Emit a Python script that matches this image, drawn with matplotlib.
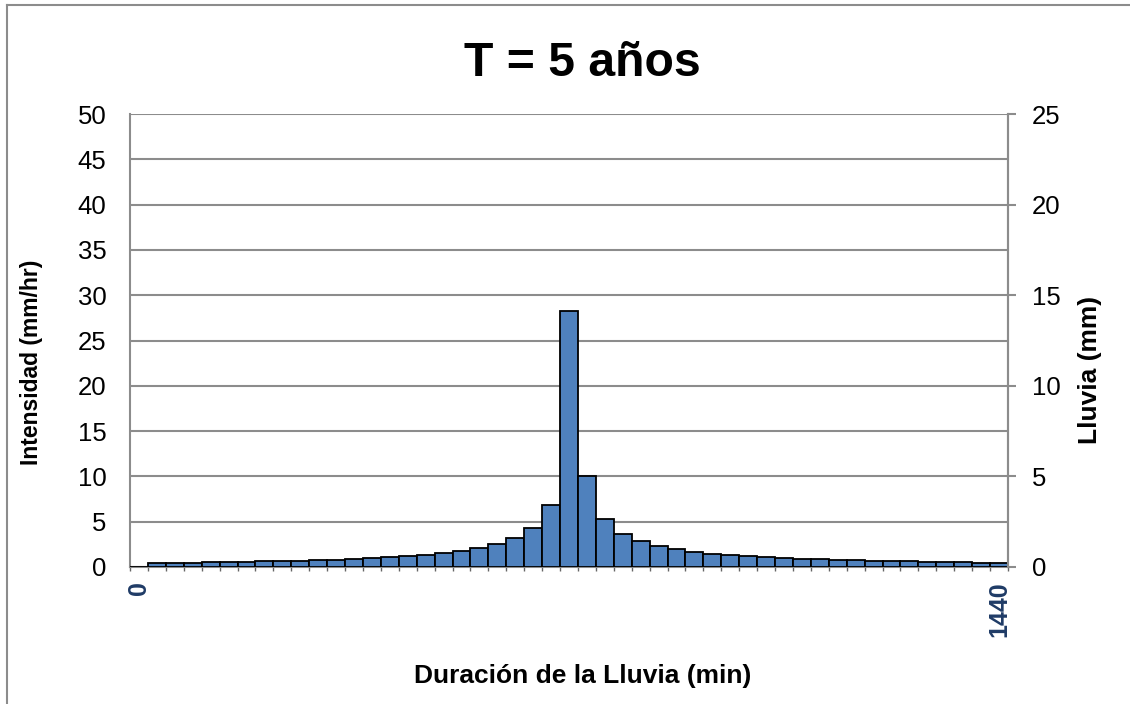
import matplotlib
matplotlib.use('Agg')
import matplotlib.pyplot as plt
from matplotlib.lines import Line2D
import numpy as np

plt.rcParams['font.family'] = ['Liberation Sans', 'DejaVu Sans']

# Data: rain duration categories (min) and intensity (mm/hr)
minutos = list(range(0, 1441, 30))
intensidad = [0.0, 0.44, 0.46, 0.47, 0.50, 0.53, 0.57, 0.61, 0.65, 0.70,
              0.75, 0.81, 0.88, 0.96, 1.06, 1.20, 1.34, 1.55, 1.80, 2.13,
              2.53, 3.23, 4.33, 6.83, 28.3, 9.99, 5.27, 3.66, 2.90, 2.32,
              1.95, 1.69, 1.47, 1.32, 1.18, 1.07, 0.96, 0.89, 0.84, 0.79,
              0.74, 0.70, 0.66, 0.62, 0.57, 0.55, 0.51, 0.48, 0.46]
etiquetas_x = ['0', '1440']
ticks_izq = [0, 5, 10, 15, 20, 25, 30, 35, 40, 45, 50]
ticks_der = [0, 5, 10, 15, 20, 25]

GRIS = '#8c8c8c'

fig = plt.figure(figsize=(11.3, 7.04), dpi=100)
ax = fig.add_axes([130 / 1130, 1 - 567 / 704, (1008 - 130) / 1130, (567 - 114) / 704])

x = np.arange(len(minutos))
ax.bar(x, intensidad, width=1.0, color='#4f81bd', edgecolor='black', linewidth=1.3, zorder=3)

ax.set_xlim(-0.5, len(minutos) - 0.5)
ax.set_ylim(0, 50)
ax.set_yticks(ticks_izq)
ax.grid(axis='y', color=GRIS, linewidth=1.5, zorder=0)
ax.set_axisbelow(True)

# x ticks: only first and last category labelled
ax.set_xticks([0, len(minutos) - 1])
ax.set_xticklabels(etiquetas_x, rotation=90, fontweight='bold', fontsize=18,
                   color='#1f3b66', va='top')
ax.tick_params(axis='x', length=0, pad=10)
ax.set_xticks(np.arange(len(minutos) + 1) - 0.5, minor=True)
ax.tick_params(axis='x', which='minor', length=3, color='#666666', width=1)

ax.tick_params(axis='y', length=0, pad=17, labelsize=18.5)

ax.spines['top'].set_visible(False)
for s in ['left', 'bottom', 'right']:
    ax.spines[s].set_color(GRIS)
    ax.spines[s].set_linewidth(1.5)

ax2 = ax.twinx()
ax2.set_ylim(0, 25)
ax2.set_yticks(ticks_der)
ax2.tick_params(axis='y', length=6, width=1.5, color=GRIS, pad=11, labelsize=18.5)
for s in ['top', 'left', 'bottom']:
    ax2.spines[s].set_visible(False)
ax2.spines['right'].set_color(GRIS)
ax2.spines['right'].set_linewidth(1.5)

fig.text(582 / 1130, 1 - 63 / 704, 'T = 5 años', ha='center', va='center',
         fontsize=34.7, fontweight='bold')
fig.text(32 / 1130, 1 - 362 / 704, 'Intensidad (mm/hr)', rotation=90,
         ha='center', va='center', fontsize=16.5, fontweight='bold')
fig.text(1090 / 1130, 1 - 370 / 704, 'Lluvia (mm)', rotation=90,
         ha='center', va='center', fontsize=19, fontweight='bold')
fig.text(583 / 1130, 1 - 676 / 704, 'Duración de la Lluvia (min)',
         ha='center', va='center', fontsize=19, fontweight='bold')

# outer chart frame (left and top edges visible)
fig.add_artist(Line2D([7 / 1130, 7 / 1130], [0, 1 - 5 / 704], color=GRIS, linewidth=1.5))
fig.add_artist(Line2D([7 / 1130, 1], [1 - 5 / 704, 1 - 5 / 704], color=GRIS, linewidth=1.5))

fig.savefig('out.png', dpi=100)
